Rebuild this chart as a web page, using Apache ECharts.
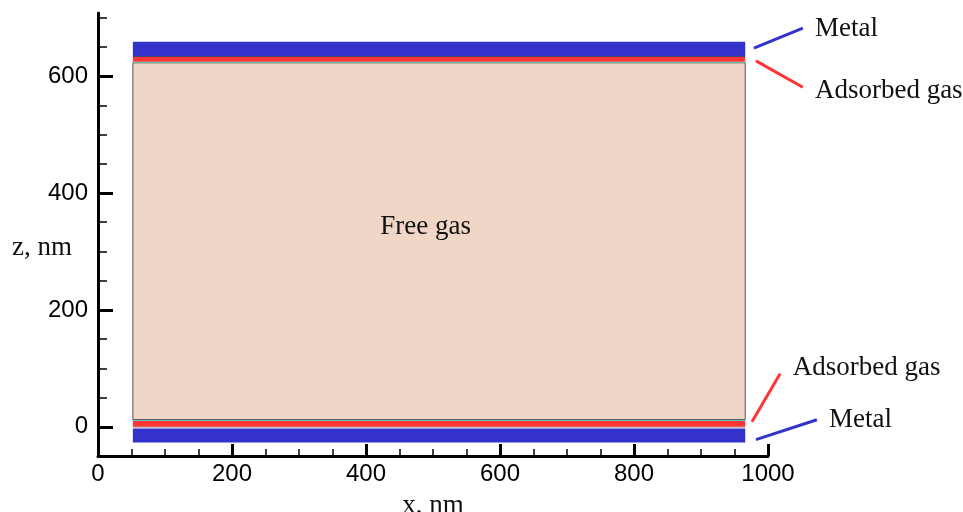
<!DOCTYPE html>
<html>
<head>
<meta charset="utf-8">
<script src="https://cdn.jsdelivr.net/npm/echarts@6/dist/echarts.min.js"></script>
<style>
html,body{margin:0;padding:0;background:#fff;}
#chart{width:963px;height:512px;}
</style>
</head>
<body>
<div id="chart"></div>
<script>
// ---- data (nm) ----
const regionNames  = ['Metal (bottom)','Boundary (bottom)','Adsorbed gas (bottom)','Interface (bottom)','Free gas','Interface (top)','Adsorbed gas (top)','Boundary (top)','Metal (top)'];
const regionXStart = [52, 52, 52, 52, 52, 52, 52, 52, 52];
const regionXEnd   = [966, 966, 966, 966, 966, 966, 966, 966, 966];
const regionZBottom= [-27, -1, 0, 10.5, 12.3, 622.8, 624.5, 632.8, 634];
const regionZTop   = [-3, 0, 10.5, 12.3, 622.8, 624.5, 632.8, 634, 659];

const xTickStep = 200;
const zMajorTicks = [0, 200, 400, 600];
const zMinorTicks = [50, 100, 150, 250, 300, 350, 450, 500, 550, 650, 700];

const leaderFromX = [979, 982, 976, 982];
const leaderFromZ = [648, 626, 8.5, -22];
const leaderToX   = [1052, 1052, 1018, 1073];
const leaderToZ   = [682, 581, 90.6, 12];

const labelTexts = ['Metal', 'Adsorbed gas', 'Free gas', 'Adsorbed gas', 'Metal'];
const labelX     = [1070, 1070, 489, 1037, 1091];
const labelZ     = [681, 575, 342, 100, 12];

// ---- styles ----
const regionColors = ['#3333CC','#222222','#FF3535','#33D4DA','#EFD6C6','#44D0A8','#FF3535','#111111','#3333CC'];
const leaderColors = ['#3333CC','#FF3535','#FF3535','#3333CC'];
const labelAlign   = ['left','left','center','left','left'];

const regionData = regionNames.map((n,i)=>({name:n, value:[regionXStart[i], regionXEnd[i], regionZBottom[i], regionZTop[i], i]}));
const leaderData = leaderFromX.map((v,i)=>[leaderFromX[i], leaderFromZ[i], leaderToX[i], leaderToZ[i], i]);
const labelData  = labelTexts.map((t,i)=>({name:t, value:[labelX[i], labelZ[i], i]}));

const chart = echarts.init(document.getElementById('chart'), null, {renderer:'canvas'});
chart.setOption({
  animation:false,
  backgroundColor:'#ffffff',
  grid:{left:98, right:195, top:13, bottom:56, containLabel:false, outerBoundsMode:'none'},
  xAxis:{
    type:'value', min:0, max:1000, interval:xTickStep,
    axisLine:{show:true, onZero:false, lineStyle:{color:'#000', width:3}},
    axisTick:{show:true, inside:true, length:12, lineStyle:{color:'#000', width:3}},
    minorTick:{show:true, splitNumber:4, length:7, lineStyle:{color:'#000', width:1.5}},
    axisLabel:{margin:6, fontSize:24, fontFamily:'Liberation Sans', color:'#000', formatter:function(v){return String(v);}},
    splitLine:{show:false}, minorSplitLine:{show:false},
    name:'x, nm', nameLocation:'middle', nameGap:36, nameMoveOverlap:false,
    nameTextStyle:{fontFamily:'Liberation Serif', fontSize:27, color:'#111'}
  },
  yAxis:[{
    type:'value', min:-50, max:708, position:'left',
    axisLine:{show:true, onZero:false, lineStyle:{color:'#000', width:3}},
    axisTick:{show:true, inside:true, length:15, lineStyle:{color:'#000', width:3}, customValues:zMajorTicks},
    axisLabel:{margin:10, fontSize:24, fontFamily:'Liberation Sans', color:'#000', customValues:zMajorTicks, formatter:function(v){return String(v);}},
    splitLine:{show:false},
    name:'z, nm', nameLocation:'middle', nameRotate:0, nameGap:26, nameMoveOverlap:false,
    nameTextStyle:{fontFamily:'Liberation Serif', fontSize:27, color:'#111', verticalAlign:'top', align:'right'}
  },{
    type:'value', min:-50, max:708, position:'left',
    axisLine:{show:false},
    axisTick:{show:true, inside:true, length:9, lineStyle:{color:'#000', width:1.5}, customValues:zMinorTicks},
    axisLabel:{show:false},
    splitLine:{show:false}
  }],
  series:[{
    type:'custom', name:'regions', yAxisIndex:0, clip:false,
    renderItem:function(params, api){
      const i = api.value(4);
      const p0 = api.coord([api.value(0), api.value(3)]);
      const p1 = api.coord([api.value(1), api.value(2)]);
      const isFree = regionNames[i] === 'Free gas';
      return {type:'rect', shape:{x:p0[0], y:p0[1], width:p1[0]-p0[0], height:p1[1]-p0[1]},
        style:{fill:regionColors[i], stroke:isFree ? '#555' : null, lineWidth:isFree ? 1 : 0}};
    },
    data:regionData, z:1
  },{
    type:'custom', name:'leaders', yAxisIndex:0, clip:false,
    renderItem:function(params, api){
      const i = api.value(4);
      const a = api.coord([api.value(0), api.value(1)]);
      const b = api.coord([api.value(2), api.value(3)]);
      return {type:'line', shape:{x1:a[0], y1:a[1], x2:b[0], y2:b[1]},
        style:{stroke:leaderColors[i], lineWidth:3}};
    },
    data:leaderData, z:3
  },{
    type:'custom', name:'labels', yAxisIndex:0, clip:false,
    renderItem:function(params, api){
      const i = api.value(2);
      const p = api.coord([api.value(0), api.value(1)]);
      return {type:'text', x:p[0], y:p[1],
        style:{text:labelTexts[i], fontFamily:'Liberation Serif', fontSize:27, fill:'#111',
               align:labelAlign[i], verticalAlign:'middle', textAlign:labelAlign[i], textVerticalAlign:'middle'}};
    },
    data:labelData, z:4
  }]
});
</script>
</body>
</html>
